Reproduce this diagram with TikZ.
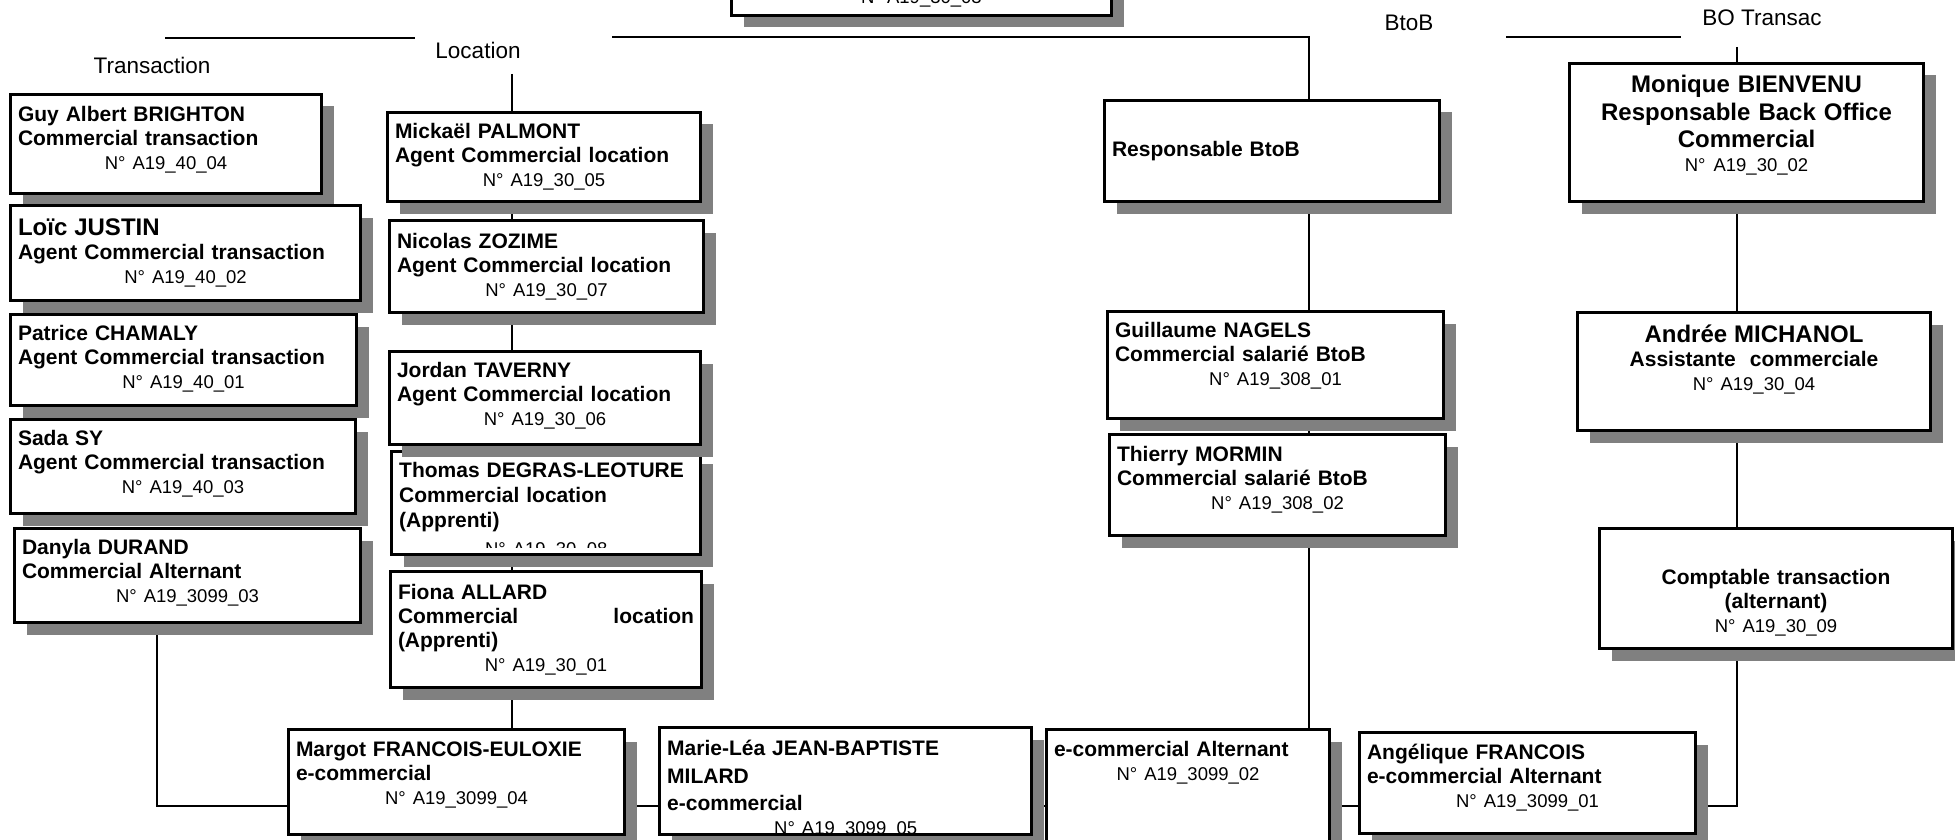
\documentclass[tikz,border=0pt]{standalone}
\usepackage{fontspec}
\setmainfont{Liberation Sans}
\usetikzlibrary{shadows, backgrounds}
\definecolor{shadowgray}{RGB}{128,128,128}
\newcommand{\refno}[2][0pt]{\par{\centering\mdseries\fontsize{18.5}{24}\selectfont N° #2\rule[-#1]{0pt}{#1}\par}}

\begin{document}
\begin{tikzpicture}[x=1pt, y=-1pt,
    box/.style={draw, line width=3pt, fill=white, inner xsep=7.5pt, inner ysep=4pt, align=left,
        font=\bfseries\fontsize{21}{24}\selectfont,
        drop shadow={shadow xshift=12pt, shadow yshift=-12pt, fill=shadowgray, opacity=1}},
    boxc/.style={box, align=center},
    boxtext/.style={inner sep=0pt, anchor=north west, align=left, font=\bfseries\fontsize{21}{25}\selectfont},
    lbl/.style={inner sep=0pt, font=\fontsize{22.5}{26}\selectfont},
    conn/.style={line width=1.3pt}
]
\useasboundingbox (0,0) rectangle (1955,840);

% head box, cut by the page
\node[boxc, minimum width=380pt, minimum height=33pt, font=\mdseries\fontsize{18.5}{24}\selectfont] (dir) at (921.5,-1) {N° A19\_30\_03};

% service labels
\node[lbl] (ltrans) at (152,65) {Transaction};
\node[lbl] (lloc) at (478,50) {Location};
\node[lbl] (lbtob) at (1409,23) {BtoB};
\node[lbl] (lbo) at (1762,18) {BO Transac};

% Transaction
\node[box, minimum width=311pt, minimum height=99pt, text width=296pt] (guy) at (166,144) {Guy Albert BRIGHTON\\Commercial transaction\refno[13pt]{A19\_40\_04}};
\node[box, minimum width=350pt, minimum height=95pt, text width=335pt] (loic) at (185.5,253) {{\fontsize{24}{27}\selectfont Loïc JUSTIN}\\Agent Commercial transaction\refno{A19\_40\_02}};
\node[box, minimum width=346pt, minimum height=91pt, text width=331pt] (patrice) at (183.5,360) {Patrice CHAMALY\\Agent Commercial transaction\refno[7pt]{A19\_40\_01}};
\node[box, minimum width=345pt, minimum height=94pt, text width=330pt] (sada) at (183,466.5) {Sada SY\\Agent Commercial transaction\refno[10pt]{A19\_40\_03}};
\node[box, minimum width=346pt, minimum height=94pt, text width=331pt] (danyla) at (187.5,575.5) {Danyla DURAND\\Commercial Alternant\refno[10pt]{A19\_3099\_03}};

% Location
\node[box, minimum width=313pt, minimum height=89pt, text width=298pt] (mickael) at (544,157) {Mickaël PALMONT\\Agent Commercial location\refno{A19\_30\_05}};
\node[box, minimum width=314pt, minimum height=92pt, text width=299pt] (nicolas) at (546.5,266.5) {Nicolas ZOZIME\\Agent Commercial location\refno{A19\_30\_07}};
\node[box, minimum width=309pt, minimum height=103pt] (thomas) at (546,503) {};
\begin{scope}
  \clip (thomas.north west) rectangle ([yshift=9pt]thomas.south east);
  \node[boxtext, text width=294pt] (thomastxt) at ([xshift=9pt, yshift=-12pt]thomas.north west) {Thomas DEGRAS-LEOTURE\\Commercial location\\(Apprenti)\par\vspace{4pt}\refno{A19\_30\_08}};
\end{scope}
\node[box, minimum width=311pt, minimum height=93pt, text width=296pt] (jordan) at (545,398) {Jordan TAVERNY\\Agent Commercial location\refno[9pt]{A19\_30\_06}};
\node[box, minimum width=311pt, minimum height=116pt, text width=296pt] (fiona) at (546,629.5) {Fiona ALLARD\\Commercial\hspace{0pt plus 1filll}location\\(Apprenti)\refno{A19\_30\_01}};

% e-commerce row
\node[box, minimum width=336pt, minimum height=105pt, text width=321pt] (margot) at (456.5,782) {Margot FRANCOIS-EULOXIE\\e-commercial\refno[17pt]{A19\_3099\_04}};
\node[box, minimum width=372pt, minimum height=107pt] (marie) at (845.5,781) {};
\begin{scope}
  \clip (marie.north west) rectangle ([yshift=3.5pt]marie.south east);
  \node[boxtext, text width=357pt, font=\bfseries\fontsize{21}{27.5}\selectfont] (marietxt) at ([xshift=9pt, yshift=-14pt]marie.north west) {Marie-Léa JEAN-BAPTISTE\\MILARD\\e-commercial\refno{A19\_3099\_05}};
\end{scope}
\node[box, minimum width=283pt, minimum height=114pt, text width=268pt] (ecomalt) at (1188,786.5) {e-commercial Alternant\refno[52pt]{A19\_3099\_02}};
\node[box, minimum width=336pt, minimum height=101pt, text width=321pt] (angelique) at (1527.5,783) {Angélique FRANCOIS\\e-commercial Alternant\refno[15pt]{A19\_3099\_01}};

% BtoB
\node[box, minimum width=335pt, minimum height=101pt, text width=320pt] (respbtob) at (1272,151) {Responsable BtoB};
\node[box, minimum width=336pt, minimum height=107pt, text width=321pt] (guillaume) at (1275.5,365) {Guillaume NAGELS\\Commercial salarié BtoB\refno[23pt]{A19\_308\_01}};
\node[box, minimum width=336pt, minimum height=101pt, text width=321pt] (thierry) at (1277.5,485) {Thierry MORMIN\\Commercial salarié BtoB\refno[15pt]{A19\_308\_02}};

% BO Transac
\node[boxc, minimum width=354pt, minimum height=138pt, text width=339pt, font=\bfseries\fontsize{24}{27.5}\selectfont] (monique) at (1746.5,132.5) {Monique BIENVENU\\Responsable Back Office\\Commercial\refno[18pt]{A19\_30\_02}};
\node[boxc, minimum width=353pt, minimum height=118pt, text width=338pt] (andree) at (1754,371.5) {{\fontsize{24}{27}\selectfont Andrée MICHANOL}\\Assistante\ \ commerciale\refno[28pt]{A19\_30\_04}};
\node[boxc, minimum width=353pt, minimum height=120pt, text width=338pt] (comptable) at (1776,588.5) {\rule{0pt}{43pt}Comptable transaction\\(alternant)\refno{A19\_30\_09}};

% connector ends
\coordinate (hl1) at (165,38);
\coordinate (hl2) at (415,38);
\coordinate (hl3) at (269,38);
\coordinate (hm) at (612,37);
\coordinate (hb) at (1309,37);
\coordinate (hr1) at (1506,37);
\coordinate (hr2) at (1681,37);
\coordinate (loccol) at (512,74);
\coordinate (dancol) at (157,0);
\coordinate (bocol) at (1737,47);
\coordinate (rowy) at (0,806);

\begin{scope}[on background layer]
\draw[conn] (hl1) -- (hl2);
\draw[line width=2.2pt] (hl3) -- (hl2);
\draw[conn] (hm) -- (hb) -- (hb |- ecomalt.north);
\draw[conn] (hr1) -- (hr2);
\draw[conn] (loccol) -- (loccol |- margot.north);
\draw[conn] (dancol |- danyla.south) |- (margot.west |- rowy);
\draw[conn] (margot.east |- rowy) -- (marie.west |- rowy);
\draw[conn] (marie.east |- rowy) -- (ecomalt.west |- rowy);
\draw[conn] (ecomalt.east |- rowy) -- (angelique.west |- rowy);
\draw[conn] (bocol) |- (angelique.east |- rowy);
\end{scope}
\end{tikzpicture}
\end{document}
